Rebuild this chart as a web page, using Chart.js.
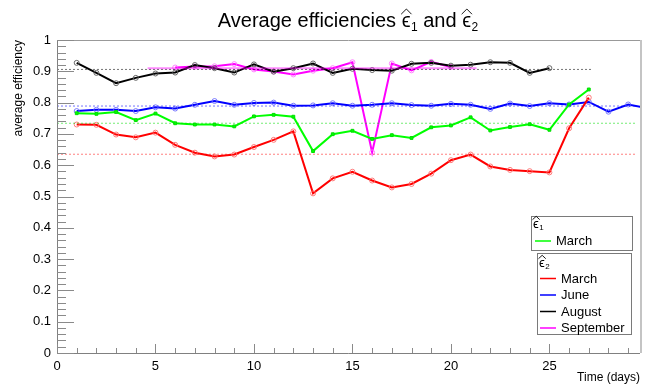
<!DOCTYPE html>
<html><head><meta charset="utf-8">
<script src="https://cdn.jsdelivr.net/npm/chart.js@4.4.1/dist/chart.umd.min.js"></script>
<style>html,body{margin:0;padding:0;background:#fff}canvas{display:block}</style>
</head><body>
<canvas id="c" width="655" height="385"></canvas>
<script>
// ---- data ----
const daysMarch = [1,2,3,4,5,6,7,8,9,10,11,12,13,14,15,16,17,18,19,20,21,22,23,24,25,26,27];
const eps1March = [0.766,0.764,0.770,0.744,0.765,0.734,0.730,0.730,0.724,0.756,0.761,0.755,0.645,0.699,0.710,0.684,0.696,0.687,0.721,0.727,0.753,0.711,0.722,0.731,0.713,0.794,0.842];
const eps2March = [0.730,0.729,0.698,0.689,0.704,0.665,0.640,0.628,0.634,0.658,0.681,0.708,0.510,0.558,0.579,0.551,0.529,0.540,0.573,0.616,0.634,0.596,0.585,0.581,0.577,0.718,0.816];
const daysJune = [1,2,3,4,5,6,7,8,9,10,11,12,13,14,15,16,17,18,19,20,21,22,23,24,25,26,27,28,29,30];
const eps2June = [0.773,0.777,0.777,0.773,0.785,0.781,0.793,0.805,0.793,0.799,0.800,0.790,0.791,0.798,0.790,0.793,0.798,0.792,0.790,0.796,0.793,0.780,0.797,0.789,0.798,0.794,0.802,0.771,0.794,0.782];
const daysAugust = [1,2,3,4,5,6,7,8,9,10,11,12,13,14,15,16,17,18,19,20,21,22,23,24,25];
const eps2August = [0.927,0.895,0.862,0.879,0.893,0.896,0.920,0.910,0.896,0.922,0.899,0.910,0.925,0.895,0.908,0.904,0.902,0.924,0.927,0.918,0.921,0.929,0.927,0.895,0.910];
const daysSeptember = [6,7,8,9,10,11,12,13,14,15,16,17,18,19,20];
const eps2September = [0.912,0.915,0.916,0.923,0.906,0.899,0.890,0.902,0.910,0.929,0.641,0.925,0.903,0.930,0.914];
// mean levels and their drawn ranges [start, end]
const meanLevels = [0.734, 0.635, 0.789, 0.906, 0.910];
const meanRanges = [[0,29.4],[0,29.4],[0,29.4],[0,27.2],[4.6,21.3]];
const xTickLabels = ['0','5','10','15','20','25'];
const yTickLabels = ['0','0.1','0.2','0.3','0.4','0.5','0.6','0.7','0.8','0.9','1'];

const FONT = 'Liberation Sans, Arial, Helvetica, DejaVu Sans, sans-serif';
const pts = (xs, ys) => xs.map((x, i) => ({x, y: ys[i]}));

function series(label, xs, ys, color, ptColor, style, r) {
  return {label, data: pts(xs, ys), borderColor: color, backgroundColor: style === 'rect' ? color : 'rgba(0,0,0,0)',
    borderWidth: 2, pointStyle: style, pointRadius: r, pointBorderColor: ptColor, pointBackgroundColor: style === 'rect' ? color : 'rgba(0,0,0,0)',
    pointBorderWidth: 1, tension: 0, fill: false};
}
function meanLine(i, color, dash, w) {
  return {label: 'mean' + i, data: [{x: meanRanges[i][0], y: meanLevels[i]}, {x: meanRanges[i][1], y: meanLevels[i]}],
    borderColor: color, borderWidth: w, borderDash: dash, pointRadius: 0, fill: false, tension: 0};
}

const datasets = [
  meanLine(0, 'rgba(0,220,0,0.55)', [2,2], 1),
  meanLine(1, 'rgba(255,0,0,0.5)', [2,2], 1),
  meanLine(2, 'rgba(0,0,255,0.55)', [2,2], 1),
  meanLine(3, 'rgba(0,0,0,0.55)', [2,2], 1),
  meanLine(4, 'rgba(255,0,255,0.45)', [], 2),
  series('March ε1', daysMarch, eps1March, '#00ff00', '#00dd00', 'rect', 2),
  series('March', daysMarch, eps2March, '#ff0000', 'rgba(255,110,110,0.9)', 'circle', 2.5),
  series('June', daysJune, eps2June, '#0000ff', 'rgba(110,110,255,0.9)', 'circle', 2.5),
  series('August', daysAugust, eps2August, '#000000', 'rgba(90,90,90,0.9)', 'circle', 2.5),
  series('September', daysSeptember, eps2September, '#ff00ff', 'rgba(255,120,255,0.9)', 'circle', 2.5)
];

function drawEps(ctx, x, base, size, sub) {
  ctx.save();
  ctx.fillStyle = '#000';
  ctx.textAlign = 'left'; ctx.textBaseline = 'alphabetic';
  ctx.font = size + 'px ' + FONT;
  ctx.fillText('ϵ', x, base);
  const w = ctx.measureText('ϵ').width;
  // hat
  ctx.strokeStyle = '#000'; ctx.lineWidth = 0.9;
  ctx.beginPath();
  ctx.moveTo(x - 0.5, base - 0.64 * size);
  ctx.lineTo(x + w / 2 + 0.3, base - 0.9 * size);
  ctx.lineTo(x + w + 1, base - 0.64 * size);
  ctx.stroke();
  ctx.font = Math.round(size * 0.62) + 'px ' + FONT;
  ctx.fillText(sub, x + w + 0.5, base + 0.18 * size);
  const sw = ctx.measureText(sub).width;
  ctx.restore();
  return w + 0.5 + sw;
}

const decor = {
  id: 'decor',
  afterDraw(chart) {
    const ctx = chart.ctx, a = chart.chartArea;
    const xs = chart.scales.x, ys = chart.scales.y;
    ctx.save();
    // frame
    ctx.lineWidth = 1;
    ctx.strokeStyle = '#999';
    ctx.beginPath(); ctx.moveTo(a.left, a.top + 0.5); ctx.lineTo(a.right, a.top + 0.5); ctx.stroke();
    ctx.strokeStyle = '#c4c4c4'; ctx.lineWidth = 2;
    ctx.beginPath(); ctx.moveTo(a.right + 1, a.top); ctx.lineTo(a.right + 1, a.bottom); ctx.stroke();
    ctx.lineWidth = 1; ctx.strokeStyle = '#808080';
    ctx.beginPath(); ctx.moveTo(a.left + 0.5, a.top); ctx.lineTo(a.left + 0.5, a.bottom + 0.5); ctx.lineTo(a.right, a.bottom + 0.5); ctx.stroke();
    // y ticks (inward)
    ctx.strokeStyle = '#8a8a8a';
    for (let i = 0; i <= 50; i++) {
      const v = i / 50; const py = Math.round(ys.getPixelForValue(v)) + 0.5;
      const len = (i % 5 === 0) ? 17 : 9;
      ctx.beginPath(); ctx.moveTo(a.left, py); ctx.lineTo(a.left + len, py); ctx.stroke();
    }
    // x ticks (inward)
    for (let d = 0; d <= 29; d++) {
      const px = Math.round(xs.getPixelForValue(d)) + 0.5;
      const len = (d % 5 === 0) ? 9 : 5;
      ctx.beginPath(); ctx.moveTo(px, a.bottom); ctx.lineTo(px, a.bottom - len); ctx.stroke();
    }
    // title
    ctx.fillStyle = '#000';
    ctx.font = '20px ' + FONT; ctx.textBaseline = 'alphabetic'; ctx.textAlign = 'left';
    const t1 = 'Average efficiencies ', t2 = ' and ';
    const w1 = ctx.measureText(t1).width, w2 = ctx.measureText(t2).width;
    ctx.font = '20px ' + FONT; const we = ctx.measureText('ϵ').width;
    ctx.font = '12px ' + FONT; const ws = ctx.measureText('1').width;
    const total = w1 + (we + 0.5 + ws) * 2 + w2;
    let tx = 348 - total / 2; const tb = 27;
    ctx.font = '20px ' + FONT; ctx.fillText(t1, tx, tb); tx += w1;
    tx += drawEps(ctx, tx, tb, 20, '1');
    ctx.font = '20px ' + FONT; ctx.fillText(t2, tx, tb); tx += w2;
    drawEps(ctx, tx, tb, 20, '2');
    // axis titles
    ctx.font = '12px ' + FONT; ctx.fillStyle = '#000';
    ctx.textAlign = 'right'; ctx.textBaseline = 'alphabetic';
    ctx.fillText('Time (days)', a.right, 381);
    ctx.save(); ctx.translate(22, a.top); ctx.rotate(-Math.PI / 2);
    ctx.textAlign = 'right'; ctx.fillText('average efficiency', 0, 0); ctx.restore();
    // legends
    ctx.fillStyle = '#fff'; ctx.strokeStyle = '#7a7a7a'; ctx.lineWidth = 1;
    ctx.fillRect(531.5, 216.5, 101, 34); ctx.strokeRect(531.5, 216.5, 101, 34);
    ctx.fillRect(537.5, 253.5, 94, 81); ctx.strokeRect(537.5, 253.5, 94, 81);
    drawEps(ctx, 533, 228, 13, '1');
    drawEps(ctx, 539, 267, 13, '2');
    const ent = [[datasets[5], 535, 241], [datasets[6], 540, 278.5], [datasets[7], 540, 295], [datasets[8], 540, 311.5], [datasets[9], 540, 328]];
    ctx.font = '13px ' + FONT; ctx.textAlign = 'left'; ctx.textBaseline = 'middle';
    ent.forEach(([ds, x0, y0]) => {
      ctx.strokeStyle = ds.borderColor; ctx.lineWidth = 1.5;
      ctx.beginPath(); ctx.moveTo(x0, y0); ctx.lineTo(x0 + 16, y0); ctx.stroke();
      ctx.fillStyle = '#000';
      ctx.fillText(ds.label.replace(' ε1', ''), x0 + 21, y0 + 0.5);
    });
    ctx.restore();
  }
};

new Chart(document.getElementById('c'), {
  type: 'line',
  data: {datasets},
  options: {
    responsive: false, animation: false, devicePixelRatio: 1,
    layout: {padding: {left: 0, right: 15, top: 40, bottom: 0}},
    plugins: {legend: {display: false}, title: {display: false}, tooltip: {enabled: false}},
    scales: {
      x: {type: 'linear', min: 0, max: 29.6,
        afterFit: s => { s.height = 32; },
        grid: {display: false, drawTicks: false}, border: {display: false},
        ticks: {stepSize: 5, includeBounds: false, padding: 6, maxRotation: 0, color: '#000', font: {family: FONT, size: 13},
          callback: v => xTickLabels[v / 5]}},
      y: {type: 'linear', min: 0, max: 1,
        afterFit: s => { s.width = 57; },
        grid: {display: false, drawTicks: false}, border: {display: false},
        ticks: {stepSize: 0.1, padding: 6, color: '#000', font: {family: FONT, size: 13},
          callback: v => yTickLabels[Math.round(v * 10)]}}
    }
  },
  plugins: [decor]
});
</script>
</body></html>
